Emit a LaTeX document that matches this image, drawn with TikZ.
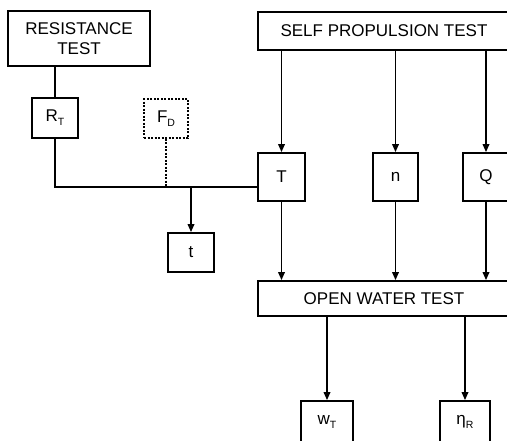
\documentclass[tikz,border=0pt]{standalone}
\usepackage{fontspec}
\setmainfont{Liberation Sans}
\usetikzlibrary{arrows.meta}
\newcommand\subs[1]{\raisebox{-0.45ex}{\fontsize{10.5}{10.5}\selectfont #1}}
\tikzset{
  box/.style={draw, line width=1.7pt, inner sep=0pt, align=center, font=\fontsize{17}{20}\selectfont},
  dbox/.style={box, dash pattern=on 2pt off 1.5pt, line width=1.4pt},
  conn/.style={line width=1.7pt},
  arr/.style={conn, -{Triangle[length=8pt,width=6.5pt]}},
  dconn/.style={conn, dash pattern=on 2pt off 1.5pt, line width=1.4pt}
}
\begin{document}
\begin{tikzpicture}[x=1pt,y=-1pt]
\useasboundingbox (0,0) rectangle (507,440);
\clip (0,0) rectangle (507,440);
\node[box, line width=2pt, minimum width=142pt, minimum height=55pt] (RES) at (79,38.5) {RESISTANCE\\TEST};
\node[box, minimum width=252pt, minimum height=38pt] (SPT) at (384,31) {SELF PROPULSION TEST};
\node[box, minimum width=46pt, minimum height=40pt] (RT) at (55,118) {R\subs{T}};
\node[dbox, minimum width=44pt, minimum height=39pt] (FD) at (166,118.5) {F\subs{D}};
\node[box, minimum width=47pt, minimum height=48pt] (T) at (281.5,177) {T};
\node[box, minimum width=45pt, minimum height=48pt] (n) at (395.5,177) {n};
\node[box, minimum width=46pt, minimum height=48pt] (Q) at (486,177) {Q};
\node[box, minimum width=46pt, minimum height=39pt] (t) at (191,252.5) {t};
\node[box, minimum width=252pt, minimum height=35pt] (OWT) at (384,298.5) {OPEN WATER TEST};
\node[box, minimum width=52pt, minimum height=42pt] (wT) at (327,422) {w\subs{T}};
\node[box, minimum width=50pt, minimum height=42pt] (eR) at (465,422) {η\subs{R}};
\coordinate (j) at (55,187);
\draw[conn] (RES.south -| RT.north) -- (RT.north);
\draw[conn] (RT.south) -- (RT.south |- j) -- (T.west |- j);
\draw[dconn] (FD.south) -- (FD.south |- j);
\draw[arr] (t.north |- j) -- (t.north);
\draw[arr] (SPT.south -| T.north) -- (T.north);
\draw[arr] (SPT.south -| n.north) -- (n.north);
\draw[arr] (SPT.south -| Q.north) -- (Q.north);
\draw[arr] (T.south) -- (OWT.north -| T.south);
\draw[arr] (n.south) -- (OWT.north -| n.south);
\draw[arr] (Q.south) -- (OWT.north -| Q.south);
\draw[arr] (OWT.south -| wT.north) -- (wT.north);
\draw[arr] (OWT.south -| eR.north) -- (eR.north);
\end{tikzpicture}
\end{document}
